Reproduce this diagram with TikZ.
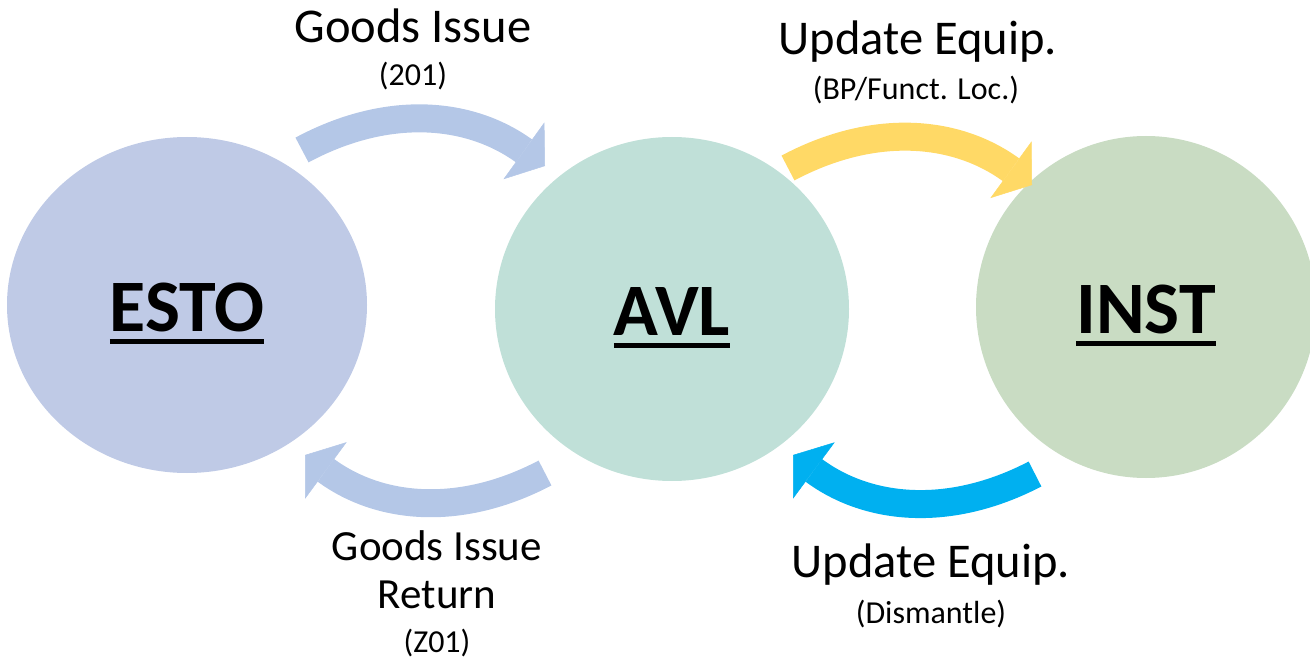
\documentclass[tikz,border=0pt]{standalone}
\usepackage{fontspec}
\setmainfont{Carlito}
\usetikzlibrary{shapes.geometric,arrows.meta}

\definecolor{estofill}{HTML}{BFCAE6}
\definecolor{avlfill}{HTML}{C0E0D8}
\definecolor{instfill}{HTML}{C9DCC3}
\definecolor{paleblue}{HTML}{B4C7E7}
\definecolor{gold}{HTML}{FFD966}
\definecolor{cyan}{HTML}{00B0F0}

\newcommand{\ulword}[1]{\setbox0=\hbox{#1}\rlap{\rule[-12pt]{\wd0}{4.5pt}}\box0}

\begin{document}
\begin{tikzpicture}[x=1pt, y=-1pt,
	stage/.style={ellipse, inner sep=0pt, text height=66pt, text depth=13pt, font=\fontsize{74}{80}\selectfont\bfseries},
	flow/.style={line width=28pt, -{Triangle[length=26pt, width=70pt, line width=0.5pt]}},
	big/.style={anchor=base, inner sep=0pt, font=\fontsize{48.5}{52}\selectfont},
	small/.style={anchor=base, inner sep=0pt, font=\fontsize{32}{35}\selectfont}]
	\useasboundingbox (0, 0) rectangle (1310, 658);

	\node[stage, fill=estofill, minimum width=360pt, minimum height=336pt] at (187, 305) (ESTO) {\ulword{ESTO}};
	\node[stage, fill=avlfill, minimum width=354pt, minimum height=344pt] at (672, 309) (AVL) {\ulword{AVL}};
	\node[stage, fill=instfill, minimum width=340pt, minimum height=342pt] at (1146, 307) (INST) {\ulword{INST}};

	\coordinate (GIs) at (302, 150);	\coordinate (GIe) at (545, 166);
	\coordinate (UPs) at (788, 168);	\coordinate (UPe) at (1032, 185);
	\coordinate (GRs) at (545, 473);	\coordinate (GRe) at (305, 455);
	\coordinate (DMs) at (1035, 474);	\coordinate (DMe) at (793, 455);

	\draw [flow, paleblue] (GIs) to[bend left=32] (GIe);
	\draw [flow, gold] (UPs) to[bend left=32] (UPe);
	\draw [flow, paleblue] (GRs) to[bend left=32] (GRe);
	\draw [flow, cyan] (DMs) to[bend left=32] (DMe);

	\node[big] at (413, 43) (GI) {Goods Issue};
	\node[small] at (413, 86) (GIn) {(201)};
	\node[big] at (918, 55) (UP) {Update Equip.};
	\node[small] at (916, 100) (UPn) {(BP/Funct. Loc.)};
	\node[big, font=\fontsize{43}{46}\selectfont] at (437, 560) (GR) {Goods Issue};
	\node[big, font=\fontsize{43}{46}\selectfont] at (437, 608) (GRa) {Return};
	\node[small] at (437, 652) (GRn) {(Z01)};
	\node[big] at (931, 577) (DM) {Update Equip.};
	\node[small] at (931, 623) (DMn) {(Dismantle)};
\end{tikzpicture}
\end{document}
